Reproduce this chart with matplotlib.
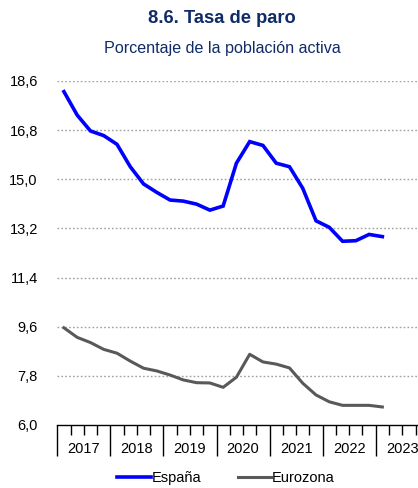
import numpy as np
import matplotlib
matplotlib.use("Agg")
import matplotlib.pyplot as plt
from matplotlib.transforms import blended_transform_factory

plt.rcParams['font.family'] = ['Liberation Sans', 'DejaVu Sans']

# quarterly unemployment rate, 2017Q1 - 2023Q1
quarters = np.arange(2017, 2023.01, 0.25) + 0.125
espana = [18.21, 17.35, 16.77, 16.60, 16.28, 15.46, 14.83, 14.52, 14.24,
          14.20, 14.09, 13.87, 14.02, 15.59, 16.38, 16.24, 15.59, 15.46,
          14.67, 13.48, 13.24, 12.73, 12.75, 12.98, 12.90]
eurozona = [9.56, 9.21, 9.02, 8.77, 8.63, 8.34, 8.08, 7.98, 7.83, 7.65,
            7.55, 7.54, 7.38, 7.75, 8.59, 8.31, 8.23, 8.09, 7.53, 7.10,
            6.85, 6.72, 6.72, 6.72, 6.66]
years = [2017, 2018, 2019, 2020, 2021, 2022, 2023]
yticks = [6.0, 7.8, 9.6, 11.4, 13.2, 15.0, 16.8, 18.6]

navy = '#0f2b68'

fig = plt.figure(figsize=(4.18, 4.88), dpi=100)
ax = fig.add_axes([57.3 / 418, 63 / 488, 1 - 57.3 / 418, 344 / 488])

ax.plot(quarters, espana, color='#0000ff', lw=2.6, label='España',
        solid_joinstyle='miter')
ax.plot(quarters, eurozona, color='#595959', lw=2.2, label='Eurozona')

ax.set_xlim(2017, 2017 + 360.7 / 53.07)
ax.set_ylim(6.0, 18.6)
ax.set_yticks(yticks)
ax.set_yticklabels([f'{v:.1f}'.replace('.', ',') for v in yticks])
ax.tick_params(axis='y', length=0, pad=14, labelsize=10.5)

for y in yticks[1:]:
    ax.axhline(y, color='#a0a0a0', lw=1.0, ls=(0, (1.2, 1.6)), zorder=0)

# year boundaries as long ticks, quarters as short ones
ax.set_xticks(years)
ax.set_xticks([y + q for y in years for q in (0.25, 0.5, 0.75)], minor=True)
ax.tick_params(axis='x', which='major', direction='out', length=22.5,
               width=1, labelbottom=False)
ax.tick_params(axis='x', which='minor', direction='out', length=7.3, width=1)

trans = blended_transform_factory(ax.transData, ax.transAxes)
for y in years:
    ax.text(y + 0.5, -24 / 344, str(y), transform=trans, ha='center',
            va='center', fontsize=10.5)

for s in ['left', 'right', 'top']:
    ax.spines[s].set_visible(False)
ax.spines['bottom'].set_linewidth(1)

fig.text(222 / 418, 1 - 18.3 / 488, '8.6. Tasa de paro', ha='center',
         va='center', fontsize=13.2, fontweight='bold', color=navy)
fig.text(222 / 418, 1 - 49 / 488, 'Porcentaje de la población activa',
         ha='center', va='center', fontsize=11.6, color=navy)

fig.legend(loc='center', bbox_to_anchor=(226 / 418, 1 - 478 / 488), ncol=2,
           frameon=False, fontsize=10.5, handlelength=2.3, handletextpad=0.05,
           columnspacing=2.5)

fig.savefig('out.png', dpi=100)
